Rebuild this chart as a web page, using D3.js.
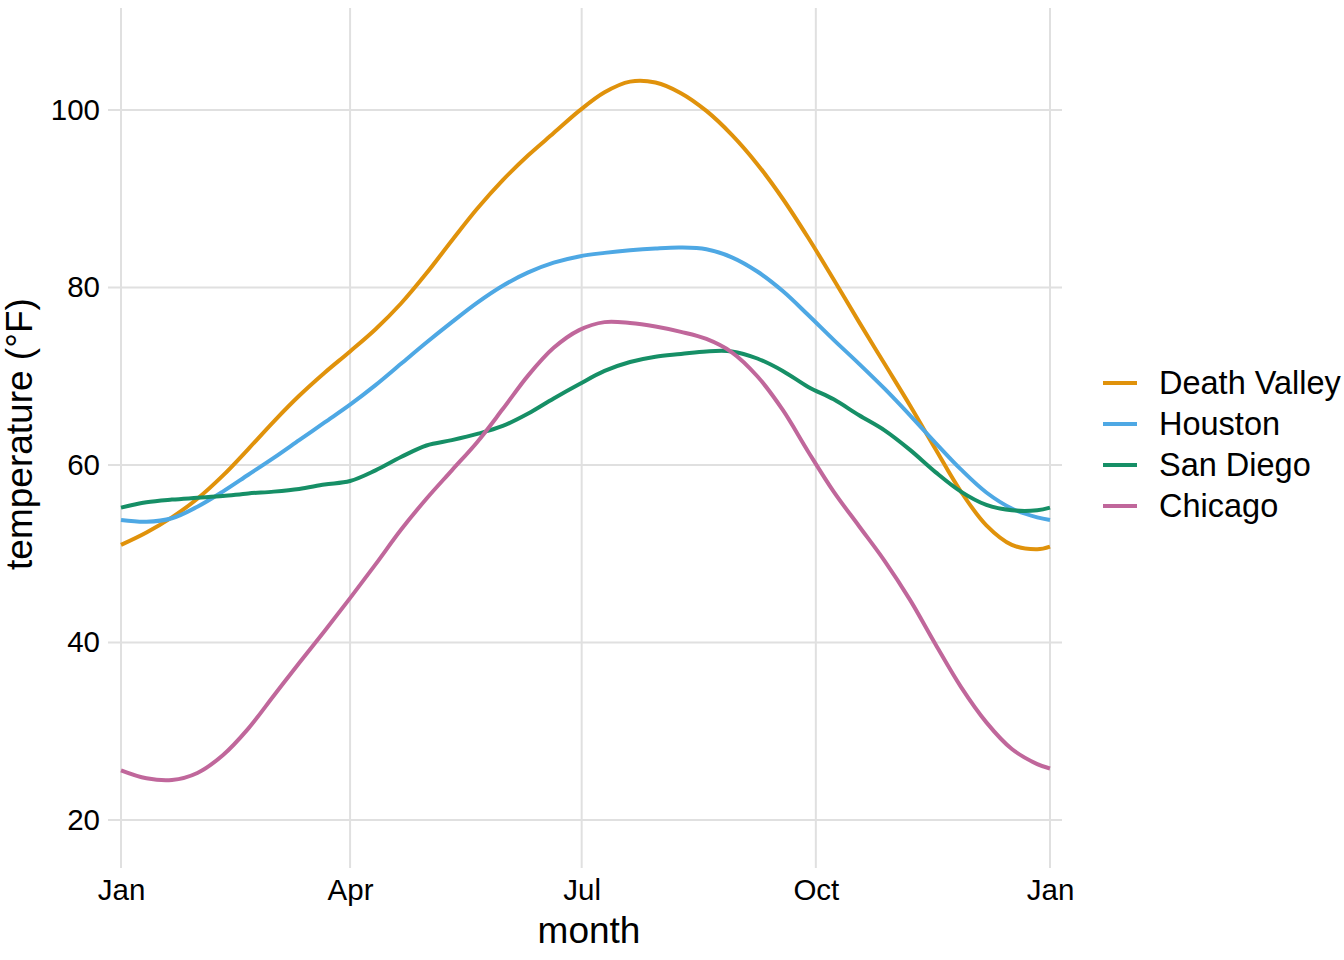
<!DOCTYPE html>
<html>
<head>
<meta charset="utf-8">
<script src="https://cdn.jsdelivr.net/npm/d3@7"></script>
<style>
  body { margin: 0; background: #fff; }
  svg { display: block; font-family: "Liberation Sans", Arial, sans-serif; }
</style>
</head>
<body>
<svg id="chart" width="1344" height="960"></svg>
<script>
// ---- data ----
const days = [0,10,20,30,40,50,60,70,80,90,100,110,120,130,140,150,160,170,180,190,200,210,220,230,240,250,260,270,280,290,300,310,320,330,340,350,360,365];
const deathValley = [51.0,52.4,54.1,56.2,58.8,61.8,64.9,67.8,70.4,72.8,75.3,78.2,81.6,85.3,88.9,92.1,94.9,97.4,99.9,102.0,103.2,103.1,101.9,99.9,97.2,93.9,90.0,85.6,80.9,76.1,71.4,66.7,61.8,57.0,53.2,51.0,50.5,50.8];
const houston = [53.8,53.6,54.0,55.3,57.0,58.9,60.8,62.8,64.8,66.8,69.0,71.4,73.8,76.1,78.3,80.2,81.7,82.8,83.5,83.9,84.2,84.4,84.5,84.3,83.4,81.8,79.6,76.9,74.1,71.4,68.6,65.6,62.5,59.5,56.9,55.1,54.1,53.8];
const sanDiego = [55.2,55.8,56.1,56.3,56.5,56.8,57.0,57.3,57.8,58.2,59.4,60.9,62.2,62.8,63.5,64.4,65.8,67.5,69.1,70.6,71.6,72.2,72.5,72.8,72.8,72.0,70.6,68.8,67.4,65.6,63.9,61.7,59.2,57.0,55.5,54.9,54.9,55.2];
const chicago = [25.6,24.7,24.5,25.3,27.3,30.3,34.0,37.7,41.3,45.0,48.8,52.7,56.2,59.4,62.6,66.3,70.1,73.2,75.2,76.1,76.0,75.6,75.0,74.2,72.7,70.0,66.2,61.5,57.0,53.1,49.2,44.8,39.8,35.0,31.0,28.0,26.3,25.8];
const cities = ["Death Valley","Houston","San Diego","Chicago"];
const cityValues = [deathValley, houston, sanDiego, chicago];
const colors = ["#E0920B","#4EA8E4","#168F66","#C0679B"];
const xTickDays = [0, 90, 181, 273, 365];
const xTickLabels = ["Jan","Apr","Jul","Oct","Jan"];
const yTicks = [20, 40, 60, 80, 100];

// ---- layout ----
const svg = d3.select("#chart");
const panel = {left: 108, right: 1062, top: 8, bottom: 868};
const x = d3.scaleLinear().domain([0, 365]).range([121, 1050]);
const y = d3.scaleLinear().domain([20, 100]).range([820, 110]);
const gridColor = "#e0e0e0";

// gridlines
const g = svg.append("g");
g.selectAll("line.h").data(yTicks).join("line")
  .attr("x1", panel.left).attr("x2", panel.right)
  .attr("y1", d => y(d)).attr("y2", d => y(d))
  .attr("stroke", gridColor).attr("stroke-width", 2);
g.selectAll("line.v").data(xTickDays).join("line")
  .attr("y1", panel.top).attr("y2", panel.bottom)
  .attr("x1", d => x(d)).attr("x2", d => x(d))
  .attr("stroke", gridColor).attr("stroke-width", 2);

// axes (text only)
const xAxis = d3.axisBottom(x).tickValues(xTickDays)
  .tickFormat((d, i) => xTickLabels[i]).tickSize(0).tickPadding(0);
const xg = svg.append("g").attr("transform", `translate(0, 879)`).call(xAxis);
xg.select(".domain").remove();
xg.selectAll("text").attr("font-size", 29.5).attr("fill", "#000")
  .attr("font-family", "'Liberation Sans', Arial, sans-serif").attr("dy", "0.71em");

const yAxis = d3.axisLeft(y).tickValues(yTicks).tickSize(0).tickPadding(0);
const yg = svg.append("g").attr("transform", `translate(100, 0)`).call(yAxis);
yg.select(".domain").remove();
yg.selectAll("text").attr("font-size", 29.5).attr("fill", "#000")
  .attr("font-family", "'Liberation Sans', Arial, sans-serif");

// axis titles
svg.append("text").attr("x", 589).attr("y", 943).attr("text-anchor", "middle")
  .attr("font-size", 37).attr("fill", "#000").text("month");
svg.append("text").attr("transform", "translate(32, 434) rotate(-90)")
  .attr("text-anchor", "middle").attr("font-size", 37).attr("fill", "#000")
  .text("temperature (°F)");

// lines
const line = d3.line().x((d, i) => x(days[i])).y(d => y(d)).curve(d3.curveCatmullRom.alpha(0.5));
svg.append("g").selectAll("path").data(cityValues).join("path")
  .attr("d", d => line(d))
  .attr("fill", "none")
  .attr("stroke", (d, i) => colors[i])
  .attr("stroke-width", 4)
  .attr("stroke-linejoin", "round");

// legend
const leg = svg.append("g");
const legItems = leg.selectAll("g").data(cities).join("g")
  .attr("transform", (d, i) => `translate(1103, ${383 + i * 41})`);
legItems.append("line").attr("x1", 0).attr("x2", 34).attr("y1", 0).attr("y2", 0)
  .attr("stroke", (d, i) => colors[i]).attr("stroke-width", 4);
legItems.append("text").attr("x", 56).attr("y", 0).attr("dy", "0.35em")
  .attr("font-size", 32.5).attr("fill", "#000").text(d => d);
</script>
</body>
</html>
